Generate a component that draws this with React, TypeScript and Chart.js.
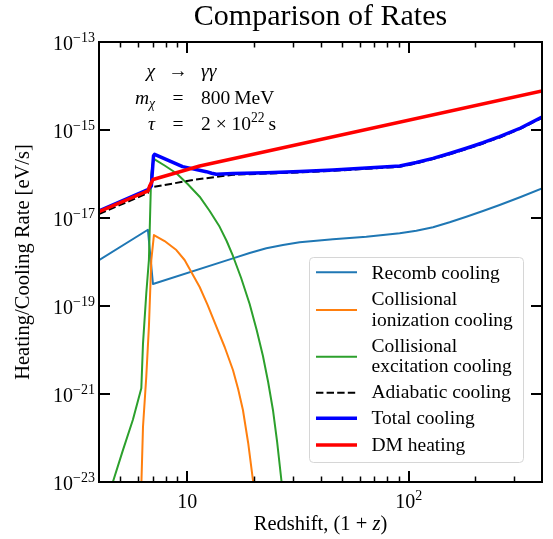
import { useEffect, useRef } from "react";
import { Chart, registerables } from "chart.js";

Chart.register(...registerables);

// ---------- data (x = 1+z, y = rate in eV/s) ----------
const X_MIN = 4;
const X_MAX = 400;
const Y_MIN = 1e-23;
const Y_MAX = 1e-13;

const recombZ = [4, 6.65, 7.01, 16.1, 19.15, 22.78, 27.07, 32.2, 45.5, 64.4, 91.1, 108.3, 128.8, 153.1, 182.2, 216.5, 257.5, 320.3, 400];
const recombRate = [1.1e-18, 5.4e-18, 3.16e-19, 1.21e-18, 1.6e-18, 2.05e-18, 2.43e-18, 2.8e-18, 3.28e-18, 3.76e-18, 4.49e-18, 5.12e-18, 6.15e-18, 7.98e-18, 1.07e-17, 1.44e-17, 1.97e-17, 3.0e-17, 4.68e-17];

const ionZ = [6.21, 6.32, 6.54, 6.72, 6.89, 7.08, 7.91, 8.94, 9.74, 11.39, 12.38, 13.55, 14.77, 16.1, 16.99, 17.86, 18.86, 19.82, 20.39];
const ionRate = [8e-24, 1.8e-22, 2.5e-21, 3.4e-20, 1.1e-18, 4.1e-18, 3.0e-18, 1.87e-18, 1.11e-18, 2.7e-19, 1.05e-19, 3.39e-20, 1.17e-20, 3.51e-21, 1.3e-21, 4.33e-22, 7.7e-23, 1.11e-23, 3.9e-24];

const exciteZ = [4.52, 4.62, 5.13, 5.69, 6.21, 6.32, 6.54, 6.72, 6.88, 7.0, 7.13, 7.91, 8.94, 10.05, 11.39, 12.64, 14.02, 15.08, 16.1, 17.53, 19.15, 20.6, 21.99, 23.21, 24.4, 25.49, 26.63, 26.99];
const exciteRate = [5.9e-24, 1.0e-23, 5.3e-23, 2.6e-22, 1.35e-21, 1.4e-20, 1.95e-19, 1.11e-18, 9.5e-17, 1.8e-16, 2.16e-16, 1.56e-16, 1.04e-16, 5.93e-17, 3.05e-17, 1.44e-17, 6.3e-18, 3.0e-18, 1.37e-18, 4.33e-19, 1.11e-19, 2.85e-20, 7.31e-21, 1.87e-21, 4.33e-22, 8.1e-23, 1.11e-23, 5.9e-24];

const adiabZ = [4, 6.65, 6.77, 10.62, 14.47, 16.1, 22.78, 32.2, 45.5, 64.4, 91.1, 108.3, 128.8, 153.1, 182.2, 216.5, 257.5, 320.3, 400];
const adiabRate = [1.23e-17, 3.7e-17, 4.9e-17, 7.3e-17, 9.0e-17, 9.6e-17, 1.02e-16, 1.09e-16, 1.18e-16, 1.31e-16, 1.46e-16, 1.75e-16, 2.18e-16, 2.8e-16, 3.68e-16, 4.93e-16, 6.77e-16, 1.07e-15, 1.89e-15];

const totalZ = [4, 6.65, 6.89, 7.05, 7.13, 9.54, 12.21, 12.9, 13.55, 16.1, 22.78, 32.2, 45.5, 64.4, 91.1, 108.3, 128.8, 153.1, 182.2, 216.5, 257.5, 320.3, 400];
const totalRate = [1.45e-17, 4.4e-17, 5.3e-17, 2.6e-16, 2.8e-16, 1.47e-16, 1.13e-16, 1.04e-16, 9.85e-17, 1.03e-16, 1.07e-16, 1.14e-16, 1.23e-16, 1.37e-16, 1.52e-16, 1.83e-16, 2.27e-16, 2.92e-16, 3.84e-16, 5.14e-16, 7.05e-16, 1.11e-15, 1.97e-15];

const heatZ = [4, 6.43, 6.65, 6.77, 7.01, 11.39, 400];
const heatRate = [1.39e-17, 3.85e-17, 4.1e-17, 5.3e-17, 7.5e-17, 1.52e-16, 7.69e-15];

// ---------- ticks & labels ----------
const xMajorTicks = [10, 100];
const xMajorExponents = ["", "2"];
const xMinorTicks = [5, 6, 7, 8, 9, 20, 30, 40, 50, 60, 70, 80, 90, 200, 300];
const yMajorTicks = [1e-13, 1e-15, 1e-17, 1e-19, 1e-21, 1e-23];
const yMajorExponents = ["\u221213", "\u221215", "\u221217", "\u221219", "\u221221", "\u221223"];

const TITLE = "Comparison of Rates";
const Y_LABEL = "Heating/Cooling Rate [eV/s]";

const legendLabels = [
  ["Recomb cooling"],
  ["Collisional", "ionization cooling"],
  ["Collisional", "excitation cooling"],
  ["Adiabatic cooling"],
  ["Total cooling"],
  ["DM heating"],
];
const legendColors = ["#1f77b4", "#ff7f0e", "#2ca02c", "#000000", "#0000ff", "#ff0000"];
const legendWidths = [2, 2, 2, 2, 3.5, 3.5];
const legendDashed = [false, false, false, true, false, false];

const FONT = "'Liberation Serif', 'Times New Roman', serif";

type Seg = { t: string; it?: boolean; s?: "sup" | "sub" };

function segFont(seg: Seg, size: number) {
  const sz = seg.s ? size * 0.7 : size;
  return `${seg.it ? "italic " : ""}${sz}px ${FONT}`;
}
function measureSegs(ctx: CanvasRenderingContext2D, segs: Seg[], size: number) {
  let w = 0;
  for (const s of segs) {
    ctx.font = segFont(s, size);
    w += ctx.measureText(s.t).width;
  }
  return w;
}
function drawSegs(ctx: CanvasRenderingContext2D, segs: Seg[], size: number, x: number, y: number, align: "left" | "right" | "center") {
  const w = measureSegs(ctx, segs, size);
  let cx = align === "left" ? x : align === "right" ? x - w : x - w / 2;
  ctx.textAlign = "left";
  ctx.textBaseline = "alphabetic";
  for (const s of segs) {
    ctx.font = segFont(s, size);
    const dy = s.s === "sup" ? -size * 0.4 : s.s === "sub" ? size * 0.22 : 0;
    ctx.fillText(s.t, cx, y + dy);
    cx += ctx.measureText(s.t).width;
  }
}

const overlay = {
  id: "overlay",
  afterDatasetsDraw(chart: any) {
    const ctx: CanvasRenderingContext2D = chart.ctx;
    const { left, right, top, bottom } = chart.chartArea;
    const xs = chart.scales.x;
    const ys = chart.scales.y;
    ctx.save();
    ctx.strokeStyle = "#000";
    ctx.fillStyle = "#000";
    const seg = (x1: number, y1: number, x2: number, y2: number, w: number) => {
      ctx.lineWidth = w;
      ctx.beginPath();
      ctx.moveTo(x1, y1);
      ctx.lineTo(x2, y2);
      ctx.stroke();
    };
    // ticks (inward, all sides)
    for (const v of xMajorTicks) {
      const px = Math.round(xs.getPixelForValue(v));
      seg(px, bottom, px, bottom - 11, 2);
      seg(px, top, px, top + 11, 2);
    }
    for (const v of xMinorTicks) {
      const px = Math.round(xs.getPixelForValue(v)) + 0.5;
      seg(px, bottom, px, bottom - 5.5, 1.5);
      seg(px, top, px, top + 5.5, 1.5);
    }
    for (const v of yMajorTicks) {
      const py = Math.round(ys.getPixelForValue(v));
      seg(left, py, left + 11, py, 2);
      seg(right, py, right - 11, py, 2);
    }
    // frame
    ctx.lineWidth = 2;
    ctx.strokeRect(left, top, right - left, bottom - top);

    // tick labels
    const TS = 20;
    yMajorTicks.forEach((v, i) => {
      const py = ys.getPixelForValue(v);
      ctx.font = `${TS}px ${FONT}`;
      const w1 = ctx.measureText("10").width;
      ctx.font = `${TS * 0.7}px ${FONT}`;
      const w2 = ctx.measureText(yMajorExponents[i]).width;
      const x0 = left - 4 - w1 - w2;
      drawSegs(ctx, [{ t: "10" }, { t: yMajorExponents[i], s: "sup" }], TS, x0, py + 8, "left");
    });
    xMajorTicks.forEach((v, i) => {
      const px = xs.getPixelForValue(v);
      const segs: Seg[] = [{ t: "10" }];
      if (xMajorExponents[i]) segs.push({ t: xMajorExponents[i], s: "sup" });
      drawSegs(ctx, segs, TS, px, bottom + 26, "center");
    });

    // axis labels
    drawSegs(ctx, [{ t: "Redshift, (1 + " }, { t: "z", it: true }, { t: ")" }], 20.5, (left + right) / 2, 530, "center");
    ctx.save();
    ctx.translate(28.5, (top + bottom) / 2);
    ctx.rotate(-Math.PI / 2);
    ctx.font = `20.5px ${FONT}`;
    ctx.textAlign = "center";
    ctx.textBaseline = "alphabetic";
    ctx.fillText(Y_LABEL, 0, 0);
    ctx.restore();

    // title
    ctx.font = `30px ${FONT}`;
    ctx.textAlign = "center";
    ctx.textBaseline = "alphabetic";
    ctx.fillText(TITLE, (left + right) / 2, 25);

    // annotation
    const AS = 19.5;
    const rows: { l: Seg[]; m: string; r: Seg[]; y: number }[] = [
      { l: [{ t: "\u03c7", it: true }], m: "\u2192", r: [{ t: "\u03b3\u03b3", it: true }], y: 77 },
      { l: [{ t: "m", it: true }, { t: "\u03c7", it: true, s: "sub" }], m: "=", r: [{ t: "800\u2009MeV" }], y: 103.5 },
      { l: [{ t: "\u03c4", it: true }], m: "=", r: [{ t: "2 \u00d7 10" }, { t: "22", s: "sup" }, { t: "\u2009s" }], y: 130 },
    ];
    for (const row of rows) {
      drawSegs(ctx, row.l, AS, 155, row.y, "right");
      drawSegs(ctx, [{ t: row.m }], AS, 178, row.y, "center");
      drawSegs(ctx, row.r, AS, 201, row.y, "left");
    }

    // legend
    const bx = 309.5, by = 257.5, bw = 214, bh = 205, r = 4;
    ctx.beginPath();
    ctx.moveTo(bx + r, by);
    ctx.lineTo(bx + bw - r, by);
    ctx.quadraticCurveTo(bx + bw, by, bx + bw, by + r);
    ctx.lineTo(bx + bw, by + bh - r);
    ctx.quadraticCurveTo(bx + bw, by + bh, bx + bw - r, by + bh);
    ctx.lineTo(bx + r, by + bh);
    ctx.quadraticCurveTo(bx, by + bh, bx, by + bh - r);
    ctx.lineTo(bx, by + r);
    ctx.quadraticCurveTo(bx, by, bx + r, by);
    ctx.closePath();
    ctx.fillStyle = "rgba(255,255,255,0.8)";
    ctx.fill();
    ctx.strokeStyle = "#d6d6d6";
    ctx.lineWidth = 1;
    ctx.stroke();

    const sampleY = [272.3, 310, 356.7, 392.7, 418.3, 445];
    const textBase = [[279.3], [305, 326], [351.7, 372], [398.3], [424.3], [450.7]];
    legendLabels.forEach((lines, i) => {
      ctx.strokeStyle = legendColors[i];
      ctx.lineWidth = legendWidths[i];
      ctx.setLineDash(legendDashed[i] ? [7.4, 3.2] : []);
      ctx.beginPath();
      ctx.moveTo(316, sampleY[i]);
      ctx.lineTo(357, sampleY[i]);
      ctx.stroke();
      ctx.setLineDash([]);
      ctx.fillStyle = "#000";
      lines.forEach((ln, j) => {
        drawSegs(ctx, [{ t: ln }], 19.5, 371.5, textBase[i][j], "left");
      });
    });
    ctx.restore();
  },
};

export default function App() {
  const ref = useRef<HTMLCanvasElement>(null);
  useEffect(() => {
    const canvas = ref.current;
    if (!canvas) return;
    const mk = (xv: number[], yv: number[]) => xv.map((x, i) => ({ x, y: yv[i] }));
    const base = { pointRadius: 0, fill: false, clip: 0, tension: 0, borderCapStyle: "butt" as const, borderJoinStyle: "round" as const };
    const chart = new Chart(canvas, {
      type: "line",
      data: {
        datasets: [
          { ...base, label: "DM heating", data: mk(heatZ, heatRate), borderColor: "#ff0000", borderWidth: 3.5, order: 0 },
          { ...base, label: "Total cooling", data: mk(totalZ, totalRate), borderColor: "#0000ff", borderWidth: 3.5, order: 1 },
          { ...base, label: "Adiabatic cooling", data: mk(adiabZ, adiabRate), borderColor: "#000000", borderWidth: 2, borderDash: [7.4, 3.2], order: 2 },
          { ...base, label: "Collisional excitation cooling", data: mk(exciteZ, exciteRate), borderColor: "#2ca02c", borderWidth: 2, order: 3 },
          { ...base, label: "Collisional ionization cooling", data: mk(ionZ, ionRate), borderColor: "#ff7f0e", borderWidth: 2, order: 4 },
          { ...base, label: "Recomb cooling", data: mk(recombZ, recombRate), borderColor: "#1f77b4", borderWidth: 2, order: 5 },
        ] as any,
      },
      options: {
        responsive: false,
        animation: false,
        devicePixelRatio: 1,
        events: [],
        layout: { padding: { left: 99, right: 11, top: 42, bottom: 57 } },
        scales: {
          x: { type: "logarithmic", min: X_MIN, max: X_MAX, display: false },
          y: { type: "logarithmic", min: Y_MIN, max: Y_MAX, display: false },
        },
        plugins: { legend: { display: false }, title: { display: false }, tooltip: { enabled: false } },
      } as any,
      plugins: [overlay],
    });
    return () => chart.destroy();
  }, []);
  return (
    <div style={{ position: "absolute", left: 0, top: 0, width: 553, height: 539, background: "#fff" }}>
      <canvas ref={ref} width={553} height={539} style={{ display: "block" }} />
    </div>
  );
}
